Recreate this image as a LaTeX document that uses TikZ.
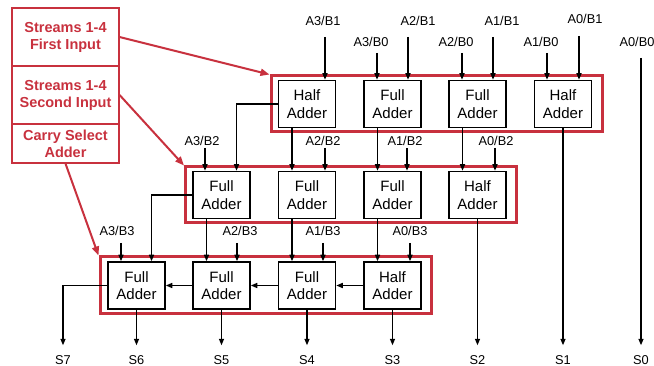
\documentclass[tikz,border=0pt]{standalone}
\usepackage{fontspec}
\setmainfont{Liberation Sans}
\usetikzlibrary{arrows.meta,positioning,calc}
\definecolor{streamred}{HTML}{C8313E}

\begin{document}
\begin{tikzpicture}[x=1pt,y=-1pt,
  adder/.style={draw,line width=1.5pt,minimum width=57pt,minimum height=47pt,
    align=center,inner sep=0pt,font=\fontsize{15}{17.5}\selectfont},
  frame/.style={draw=streamred,line width=3pt,minimum width=331pt,
    minimum height=56pt,inner sep=0pt},
  lbl/.style={font=\fontsize{12.8}{14}\selectfont,inner sep=1pt},
  wire/.style={line width=1.4pt,-{Triangle[length=6.5pt,width=5pt]}},
  tosum/.style={wire,shorten >=9pt},
  redarrow/.style={draw=streamred,line width=2pt,
    -{Triangle[length=9pt,width=7pt]}},
  cell/.style={draw=streamred,line width=1.2pt,minimum width=107pt,
    text=streamred,align=center,inner sep=0pt,
    font=\bfseries\fontsize{14.5}{17}\selectfont},
]
\useasboundingbox (0,0) rectangle (654,366);

% left: legend cells
\node[cell,minimum height=58pt] (first) at (65.5,37) {Streams 1-4\\First Input};
\node[cell,minimum height=58pt] (second) at (65.5,95) {Streams 1-4\\Second Input};
\node[cell,minimum height=39pt] (csa) at (65.5,143.5) {Carry Select\\Adder};

% red frames round the rows
\node[frame] (fr1) at (436.5,104) {};
\node[frame] (fr2) at (351,195) {};
\node[frame,minimum height=57pt] (fr3) at (265.5,285.5) {};

\draw[redarrow] (first.east) -- (fr1.north west);
\draw[redarrow] (second.east) -- (fr2.north west);
\draw[redarrow] (csa.south) -- (fr3.north west);

% adders
\node[adder] (top1) at (307,104) {Half\\Adder};
\node[adder] (top2) at (392.5,104) {Full\\Adder};
\node[adder] (top3) at (477.5,104) {Full\\Adder};
\node[adder] (top4) at (563,104) {Half\\Adder};
\node[adder] (mid1) at (221.5,195) {Full\\Adder};
\node[adder] (mid2) at (307,195) {Full\\Adder};
\node[adder] (mid3) at (392.5,195) {Full\\Adder};
\node[adder] (mid4) at (477.5,195) {Half\\Adder};
\node[adder] (bot1) at (136.5,285.5) {Full\\Adder};
\node[adder] (bot2) at (221.5,285.5) {Full\\Adder};
\node[adder] (bot3) at (307,285.5) {Full\\Adder};
\node[adder] (bot4) at (392.5,285.5) {Half\\Adder};

% first input row
\node[lbl] at (323,21) {A3/B1};  \coordinate (i31) at (325,37);
\node[lbl] at (371,42) {A3/B0};  \coordinate (i30) at (377,53);
\node[lbl] at (418,21) {A2/B1};  \coordinate (i21) at (408,37);
\node[lbl] at (456,42) {A2/B0};  \coordinate (i20) at (462,53);
\node[lbl] at (502,21) {A1/B1};  \coordinate (i11) at (493,37);
\node[lbl] at (541,42) {A1/B0};  \coordinate (i10) at (547,53);
\node[lbl] at (585,19) {A0/B1};  \coordinate (i01) at (579,36);
\node[lbl] at (637,42) {A0/B0};  \coordinate (i00) at (641,58);
\draw[wire] (i31) -- (i31 |- top1.north);
\draw[wire] (i30) -- (i30 |- top2.north);
\draw[wire] (i21) -- (i21 |- top2.north);
\draw[wire] (i20) -- (i20 |- top3.north);
\draw[wire] (i11) -- (i11 |- top3.north);
\draw[wire] (i10) -- (i10 |- top4.north);
\draw[wire] (i01) -- (i01 |- top4.north);

% second input row
\node[lbl] at (202,141) {A3/B2};  \coordinate (i32) at (205,148);
\node[lbl] at (323,141) {A2/B2};  \coordinate (i22) at (325,148);
\node[lbl] at (405,141) {A1/B2};  \coordinate (i12) at (407,148);
\node[lbl] at (496,141) {A0/B2};  \coordinate (i02) at (495,148);
\draw[wire] (i32) -- (i32 |- mid1.north);
\draw[wire] (i22) -- (i22 |- mid2.north);
\draw[wire] (i12) -- (i12 |- mid3.north);
\draw[wire] (i02) -- (i02 |- mid4.north);

% third input row
\node[lbl] at (117,231) {A3/B3};  \coordinate (i33) at (121,243);
\node[lbl] at (240,231) {A2/B3};  \coordinate (i23) at (237,243);
\node[lbl] at (323,231) {A1/B3};  \coordinate (i13) at (323,243);
\node[lbl] at (410,231) {A0/B3};  \coordinate (i03) at (410,243);
\draw[wire] (i33) -- (i33 |- bot1.north);
\draw[wire] (i23) -- (i23 |- bot2.north);
\draw[wire] (i13) -- (i13 |- bot3.north);
\draw[wire] (i03) -- (i03 |- bot4.north);

% between the rows
\draw[wire] (top1.west) -| ([xshift=15pt]mid1.north);
\draw[wire] ([xshift=-15pt]top1.south) -- ([xshift=-15pt]mid2.north);
\draw[wire] ([xshift=-15pt]top2.south) -- ([xshift=-15pt]mid3.north);
\draw[wire] ([xshift=-15pt]top3.south) -- ([xshift=-15pt]mid4.north);
\draw[wire] (mid1.west) -| ([xshift=15pt]bot1.north);
\draw[wire] ([xshift=-15pt]mid1.south) -- ([xshift=-15pt]bot2.north);
\draw[wire] ([xshift=-15pt]mid2.south) -- ([xshift=-15pt]bot3.north);
\draw[wire] ([xshift=-15pt]mid3.south) -- ([xshift=-15pt]bot4.north);
\draw[wire] (bot4.west) -- (bot3.east);
\draw[wire] (bot3.west) -- (bot2.east);
\draw[wire] (bot2.west) -- (bot1.east);

% sums
\node[lbl] (s7) at (63,360) {S7};
\node[lbl] (s6) at (136.5,360) {S6};
\node[lbl] (s5) at (221.5,360) {S5};
\node[lbl] (s4) at (307,360) {S4};
\node[lbl] (s3) at (392.5,360) {S3};
\node[lbl] (s2) at (477.5,360) {S2};
\node[lbl] (s1) at (563,360) {S1};
\node[lbl] (s0) at (641,360) {S0};
\draw[tosum] (bot1.west) -| (s7.north);
\draw[tosum] (bot1.south) -- (s6.north);
\draw[tosum] (bot2.south) -- (s5.north);
\draw[tosum] (bot3.south) -- (s4.north);
\draw[tosum] (bot4.south) -- (s3.north);
\draw[tosum] (mid4.south) -- (s2.north);
\draw[tosum] (top4.south) -- (s1.north);
\draw[tosum] (i00) -- (s0.north);
\end{tikzpicture}
\end{document}
